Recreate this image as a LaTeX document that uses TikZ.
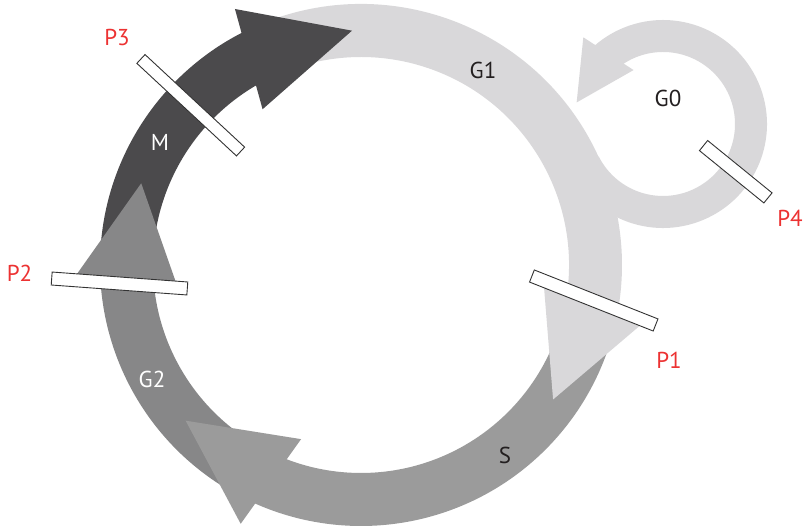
\documentclass[tikz,border=0pt]{standalone}
\usepackage{fontspec}
\setmainfont{PT Sans}
\usetikzlibrary{calc}
\definecolor{cGone}{HTML}{D9D8DA}
\definecolor{cS}{HTML}{9B9B9B}
\definecolor{cGtwo}{HTML}{878788}
\definecolor{cM}{HTML}{4B4A4C}
\definecolor{cRed}{HTML}{EC3232}
\definecolor{cTxt}{HTML}{231F20}
\definecolor{cBar}{HTML}{333333}
% color, center, rin, rout, start angle, end angle
\newcommand\ringband[6]{%
  \fill[#1] ($(#2)+(#5:#4)$) arc[start angle=#5,end angle=#6,radius=#4]
    -- ($(#2)+(#6:#3)$) arc[start angle=#6,end angle=#5,radius=#3] -- cycle;}
% color, center, radius, base angle, tip angle, half width
\newcommand\arrowtip[6]{%
  \path ($(#2)+(#4:#3)$) coordinate (ahB) ($(#2)+(#5:#3)$) coordinate (ahT);
  \fill[#1] ($(ahB)!#6!90:(ahT)$) -- (ahT) -- ($(ahB)!#6!-90:(ahT)$) -- cycle;}
\begin{document}
\begin{tikzpicture}[x=1pt,y=1pt,
  bar/.style={draw=cBar, fill=white, line width=0.9pt, rectangle, inner sep=0pt, minimum height=13pt},
  lbl/.style={font=\fontsize{23}{23}\selectfont, inner sep=0pt}]
\useasboundingbox (0,0) rectangle (804,527);
\coordinate (C) at (361,262);
\coordinate (L) at (663,403);
% bands of the cycle
\ringband{cGone}{C}{208pt}{261pt}{113}{-16}
\ringband{cS}{C}{208pt}{261pt}{-15}{-118.6}
\ringband{cGtwo}{C}{208pt}{261pt}{-118}{-181.6}
\ringband{cM}{C}{208pt}{261pt}{179}{112.6}
% G0 loop
\fill[cGone] ($(L)+(200:104pt)$) arc[start angle=200,end angle=493,radius=104pt]
  -- ($(L)+(493:72pt)$) arc[start angle=493,end angle=207,radius=72pt] -- cycle;
% arrow heads
\arrowtip{cGone}{C}{234.5pt}{-10}{-35}{52pt}
\arrowtip{cS}{C}{234.5pt}{-112.6}{-138.4}{52pt}
\arrowtip{cGtwo}{C}{234.5pt}{184.4}{159.6}{52pt}
\arrowtip{cM}{C}{234.5pt}{118.6}{92.2}{52pt}
\arrowtip{cGone}{L}{89pt}{127.8}{166}{30pt}
% checkpoint bars
\node[bar, minimum width=133pt, rotate=-21.6] (P1bar) at (593.75,226.5) {};
\node[bar, minimum width=136pt, rotate=-4.2] (P2bar) at (119.5,243.5) {};
\node[bar, minimum width=136pt, minimum height=12pt, rotate=-42.9] (P3bar) at (190.75,421.75) {};
\node[bar, minimum width=83pt, rotate=-39.1] (P4bar) at (735.75,355.25) {};
% labels
\node[lbl, text=cRed] (P1) at (669,166.5) {P1};
\node[lbl, text=cRed] (P2) at (19.5,254) {P2};
\node[lbl, text=cRed] (P3) at (117,489.5) {P3};
\node[lbl, text=cRed] (P4) at (790,309) {P4};
\node[lbl, text=white] (M) at (160,384.5) {M};
\node[lbl, text=white] (G2) at (152,148) {G2};
\node[lbl, text=cTxt] (S) at (505,71.5) {S};
\node[lbl, text=cTxt] (G1) at (483,456.5) {G1};
\node[lbl, text=cTxt] (G0) at (668,428.5) {G0};
\end{tikzpicture}
\end{document}
